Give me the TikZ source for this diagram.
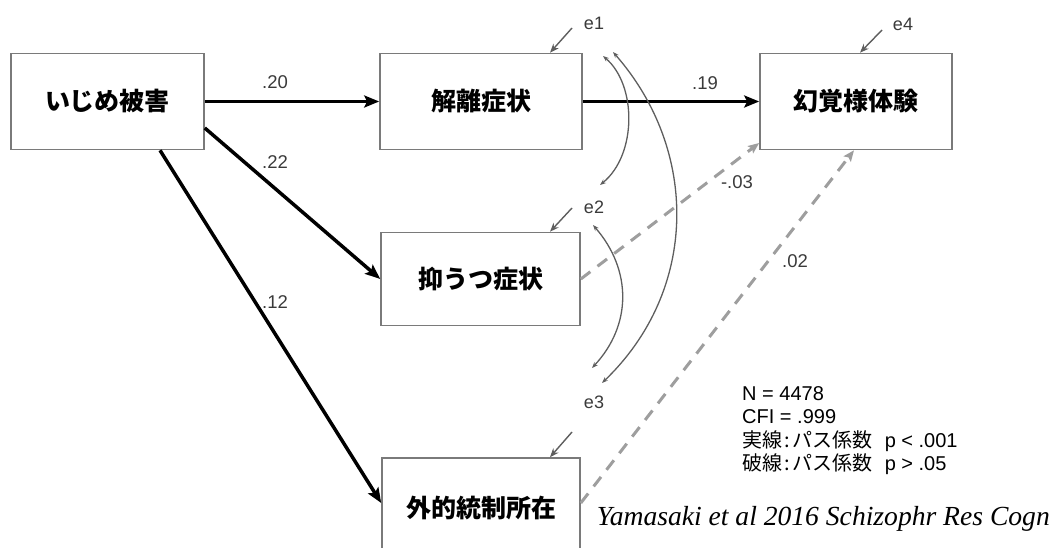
\documentclass[tikz,border=0pt]{standalone}
\usepackage{fontspec}
\setmainfont{Liberation Sans}
\newfontfamily\cjk{Noto Sans CJK JP}
\newfontfamily\citefont{Liberation Serif}
\usetikzlibrary{arrows.meta}
\definecolor{boxgray}{HTML}{7A7A7A}
\definecolor{dashgray}{HTML}{9E9E9E}
\definecolor{txtgray}{HTML}{3A3A3A}
\definecolor{curvegray}{HTML}{5E5E5E}
\begin{document}
\begin{tikzpicture}[x=1pt,y=-1pt,
  var/.style={draw=boxgray, line width=1.6pt, minimum height=96pt, inner sep=0pt,
    font=\cjk\bfseries\fontsize{25}{25}\selectfont},
  plab/.style={font=\fontsize{18.5}{18.5}\selectfont, text=txtgray, inner sep=0pt},
  elab/.style={font=\fontsize{18}{18}\selectfont, text=txtgray, inner sep=0pt},
  solidpath/.style={draw=black, line width=3.5pt, -{Stealth[length=15pt,width=12pt,inset=3pt]}},
  dashpath/.style={draw=dashgray, line width=3pt, dash pattern=on 12pt off 9pt,
    -{Stealth[length=11pt,width=9pt,inset=2pt]}},
  errarrow/.style={draw=curvegray, line width=1.4pt, -{Stealth[length=9pt,width=7pt]}},
  cov/.style={draw=curvegray, line width=1.3pt, {Stealth[length=6pt,width=4.5pt]}-{Stealth[length=6pt,width=4.5pt]}},
  legend/.style={anchor=base west, inner sep=0pt, font=\fontsize{20}{20}\selectfont}
]
\useasboundingbox (0,0) rectangle (1058,548);
\clip (0,0) rectangle (1058,548);

% variables
\node[var, minimum width=193pt] (A) at (107.5,101.5) {いじめ被害};
\node[var, minimum width=202pt] (B) at (481,101.5) {解離症状};
\node[var, minimum width=192pt] (C) at (856,101.5) {幻覚様体験};
\node[var, minimum width=199pt, minimum height=93pt] (D) at (480.5,279) {抑うつ症状};
\node[var, minimum width=198pt, minimum height=100pt] (E) at (481,508) {外的統制所在};

% paths
\draw[solidpath] (A.east) -- (B.west);
\draw[solidpath] (A.east |- 0,128) -- (D.west);
\draw[solidpath] (A.south -| 160,0) -- (E.west |- 0,503);
\draw[solidpath] (B.east) -- (C.west);
\draw[dashpath] (D.east) -- (C.west |- 0,143);
\draw[dashpath] (E.east |- 0,503) -- (C.south -| 854,0);

% path labels
\node[plab] (l20) at (275,82) {.20};
\node[plab] (l22) at (275,162) {.22};
\node[plab] (l12) at (275,302) {.12};
\node[plab] (l19) at (705,83) {.19};
\node[plab] (l03) at (737,182) {-.03};
\node[plab] (l02) at (795,261) {.02};

% error terms
\node[elab] (e1) at (594,23) {e1};
\node[elab] (e2) at (594,207) {e2};
\node[elab] (e3) at (594,402) {e3};
\node[elab] (e4) at (903,24) {e4};
\coordinate (e1t) at (572,28);
\coordinate (e2t) at (572,208);
\coordinate (e3t) at (572,432);
\coordinate (e4t) at (882,30);
\draw[errarrow] (e1t) -- (B.north -| 550,0);
\draw[errarrow] (e2t) -- (D.north -| 550,0);
\draw[errarrow] (e3t) -- (E.north -| 550,0);
\draw[errarrow] (e4t) -- (C.north -| 860,0);

% covariances
\coordinate (c12a) at (603,56);
\coordinate (c12b) at (600,185);
\coordinate (c13a) at (613,52);
\coordinate (c13b) at (602,383);
\coordinate (c23a) at (593,225);
\coordinate (c23b) at (592,368);
\draw[cov] (c12a) .. controls (637,85) and (637,155) .. (c12b);
\draw[cov] (c13a) .. controls (699,150) and (699,290) .. (c13b);
\draw[cov] (c23a) .. controls (632,270) and (632,325) .. (c23b);

% legend
\node[legend] (n1) at (742,400) {N = 4478};
\node[legend] (n2) at (742,423.5) {CFI = .999};
\node[legend] (n3) at (742,447) {{\cjk 実線\kern2pt:\kern3pt パス係数}\hspace{0.6em}p < .001};
\node[legend] (n4) at (742,470.5) {{\cjk 破線\kern2pt:\kern3pt パス係数}\hspace{0.6em}p > .05};

% citation
\node[anchor=base east, inner sep=0pt, font=\citefont\itshape\fontsize{27.6}{27.6}\selectfont] (cite) at (1050,525) {Yamasaki et al 2016 Schizophr Res Cogn};
\end{tikzpicture}
\end{document}
